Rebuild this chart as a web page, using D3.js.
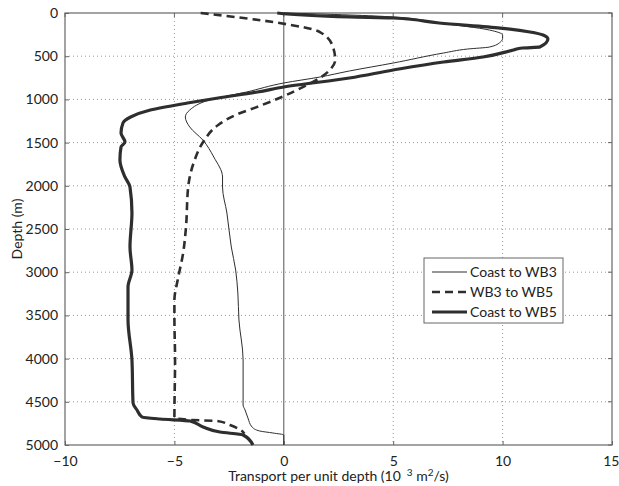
<!DOCTYPE html>
<html>
<head>
<meta charset="utf-8">
<script src="https://cdn.jsdelivr.net/npm/d3@7"></script>
<style>
  body { margin: 0; background: #fff; }
  text { font-family: Lato, "Open Sans", sans-serif; fill: #222; }
</style>
</head>
<body>
<script>
const width = 619
const height = 486
const margin = {top: 13, right: 7, bottom: 41, left: 65}

// tick values
const xTicks = [-10, -5, 0, 5, 10, 15]
const yTicks = [0, 500, 1000, 1500, 2000, 2500, 3000, 3500, 4000, 4500, 5000]

// Coast to WB3 (thin)
const wb3Depth = [0, 23, 46, 116, 197, 255, 293, 336, 394, 417, 463, 579, 671, 741, 810, 914, 1007, 1123, 1204, 1319, 1470, 1667, 1898, 2014, 2315, 2708, 2975, 3241, 3553, 4016, 4537, 4595, 4687, 4792, 4838, 4861, 4884, 5000]
const wb3Value = [0, 3.0, 5.0, 7.1, 9.4, 10.0, 10.0, 9.9, 9.4, 8.4, 7.3, 5.0, 3.0, 1.65, 0, -1.7, -3.4, -4.3, -4.5, -4.3, -3.7, -3.2, -2.8, -2.8, -2.6, -2.4, -2.2, -2.1, -2.05, -1.86, -1.86, -1.77, -1.64, -1.45, -1.1, -0.5, 0, 0]

// WB3 to WB5 (dashed)
const wb35Depth = [0, 116, 220, 394, 544, 660, 752, 833, 984, 1075, 1180, 1296, 1500, 1720, 2014, 2477, 2778, 3090, 3322, 3518, 4016, 4687, 4711, 4722, 4769, 4850, 4870]
const wb35Value = [-3.8, -0.2, 1.65, 2.25, 2.35, 2.1, 1.65, 1.06, -0.2, -1.1, -2.2, -3.0, -3.7, -4.1, -4.37, -4.47, -4.6, -4.85, -5.0, -5.0, -4.97, -5.0, -4.15, -3.05, -2.46, -1.86, -1.8]

// Coast to WB5 (thick)
const wb5Depth = [0, 46, 58, 116, 174, 220, 255, 301, 394, 405, 428, 509, 567, 660, 752, 856, 914, 984, 1042, 1123, 1204, 1273, 1389, 1493, 1551, 1701, 1898, 2014, 2315, 2708, 2975, 3171, 3553, 4016, 4514, 4595, 4676, 4699, 4722, 4792, 4850, 4884, 5000]
const wb5Value = [-0.3, 3.0, 5.0, 7.1, 9.9, 11.25, 11.85, 12.07, 11.7, 10.9, 10.5, 9.1, 7.3, 5.0, 3.0, 0, -1.2, -3.0, -4.4, -6.1, -7.0, -7.35, -7.44, -7.26, -7.44, -7.49, -7.26, -7.03, -6.94, -7.03, -6.94, -7.12, -7.12, -6.94, -6.89, -6.71, -6.48, -5.66, -4.29, -3.69, -2.92, -1.86, -1.41]

const seriesNames = ["Coast to WB3", "WB3 to WB5", "Coast to WB5"]
const lineColor = "#2e2e2e"
const axisColor = "#666"

const series = [
    {name: seriesNames[0], depth: wb3Depth, value: wb3Value, w: 1, dash: null},
    {name: seriesNames[1], depth: wb35Depth, value: wb35Value, w: 2.6, dash: "8,5"},
    {name: seriesNames[2], depth: wb5Depth, value: wb5Value, w: 3.2, dash: null}
]

let svg = d3.select("body")
    .append("svg")
    .attr("width", width)
    .attr("height", height)

let x = d3.scaleLinear().domain([-10, 15]).range([margin.left, width - margin.right])
let y = d3.scaleLinear().domain([0, 5000]).range([margin.top, height - margin.bottom])

// grid
svg.append("g")
    .selectAll("line")
    .data(yTicks.slice(1, -1))
    .enter()
    .append("line")
    .attr("x1", x(-10))
    .attr("x2", x(15))
    .attr("y1", d => y(d))
    .attr("y2", d => y(d))
    .attr("stroke", "#999")
    .attr("stroke-width", 1)
    .attr("stroke-dasharray", "1,3")

svg.append("g")
    .selectAll("line")
    .data([-5, 5, 10])
    .enter()
    .append("line")
    .attr("x1", d => x(d))
    .attr("x2", d => x(d))
    .attr("y1", y(0))
    .attr("y2", y(5000))
    .attr("stroke", "#999")
    .attr("stroke-width", 1)
    .attr("stroke-dasharray", "1,3")

// zero line
svg.append("line")
    .attr("x1", x(0))
    .attr("x2", x(0))
    .attr("y1", y(0))
    .attr("y2", y(5000))
    .attr("stroke", "#555")
    .attr("stroke-width", 1)

// axes
let xAxis = svg.append("g")
    .attr("transform", `translate(0,${y(5000)})`)
    .call(d3.axisBottom(x).tickValues(xTicks).tickSize(-4).tickPadding(8)
        .tickFormat(d => d < 0 ? "\u2212" + Math.abs(d) : d))
let yAxis = svg.append("g")
    .attr("transform", `translate(${x(-10)},0)`)
    .call(d3.axisLeft(y).tickValues(yTicks).tickSize(-4).tickPadding(8).tickFormat(d3.format("d")))

;[xAxis, yAxis].forEach(a => {
    a.select(".domain").remove()
    a.selectAll(".tick line").attr("stroke", axisColor)
    a.selectAll(".tick text")
        .style("font-family", "Lato, 'Open Sans', sans-serif")
        .style("font-size", "14px")
        .attr("fill", "#222")
})
xAxis.selectAll(".tick text").attr("dy", "0.9em")
// last label sits against the right edge
xAxis.selectAll(".tick text").filter(d => d === 15).attr("text-anchor", "end").attr("x", 7)
yAxis.selectAll(".tick text").attr("x", -7)

// top ticks and right ticks
svg.append("g").selectAll("line").data(xTicks).enter().append("line")
    .attr("x1", d => x(d)).attr("x2", d => x(d))
    .attr("y1", y(0)).attr("y2", y(0) + 4)
    .attr("stroke", axisColor)
svg.append("g").selectAll("line").data(yTicks).enter().append("line")
    .attr("x1", x(15)).attr("x2", x(15) - 4)
    .attr("y1", d => y(d)).attr("y2", d => y(d))
    .attr("stroke", axisColor)

// box
svg.append("rect")
    .attr("x", x(-10))
    .attr("y", y(0))
    .attr("width", x(15) - x(-10))
    .attr("height", y(5000) - y(0))
    .attr("fill", "none")
    .attr("stroke", axisColor)
    .attr("stroke-width", 1.2)

// lines
let line = d3.line()
    .x(d => x(d[1]))
    .y(d => y(d[0]))
    .curve(d3.curveMonotoneY)

svg.append("g")
    .selectAll("path")
    .data(series)
    .enter()
    .append("path")
    .attr("d", s => line(d3.zip(s.depth, s.value)))
    .attr("fill", "none")
    .attr("stroke", lineColor)
    .attr("stroke-width", s => s.w)
    .attr("stroke-dasharray", s => s.dash)
    .attr("stroke-linejoin", "round")

// axis titles
let xt = svg.append("text")
    .attr("x", (x(-10) + x(15)) / 2)
    .attr("y", 481)
    .attr("text-anchor", "middle")
    .style("font-size", "14px")
xt.append("tspan").text("Transport per unit depth (10")
xt.append("tspan").attr("dx", 6).attr("dy", -5).style("font-size", "10px").text("3")
xt.append("tspan").attr("dy", 5).text(" m")
xt.append("tspan").attr("dy", -5).style("font-size", "10px").text("2")
xt.append("tspan").attr("dy", 5).text("/s)")

svg.append("text")
    .attr("transform", `translate(22,${(y(0) + y(5000)) / 2}) rotate(-90)`)
    .attr("text-anchor", "middle")
    .style("font-size", "14px")
    .text("Depth (m)")

// legend
let lg = svg.append("g")
lg.append("rect")
    .attr("x", 424)
    .attr("y", 258)
    .attr("width", 139)
    .attr("height", 65)
    .attr("fill", "#fff")
    .attr("stroke", axisColor)
    .attr("stroke-width", 1)

let items = lg.selectAll(".item")
    .data(series)
    .enter()
    .append("g")
    .attr("transform", (d, i) => `translate(0,${272 + i * 20})`)
items.append("line")
    .attr("x1", 432)
    .attr("x2", 467)
    .attr("stroke", lineColor)
    .attr("stroke-width", d => d.w)
    .attr("stroke-dasharray", d => d.dash)
items.append("text")
    .attr("x", 470)
    .attr("dy", "0.35em")
    .style("font-size", "14px")
    .text(d => d.name)
</script>
</body>
</html>
